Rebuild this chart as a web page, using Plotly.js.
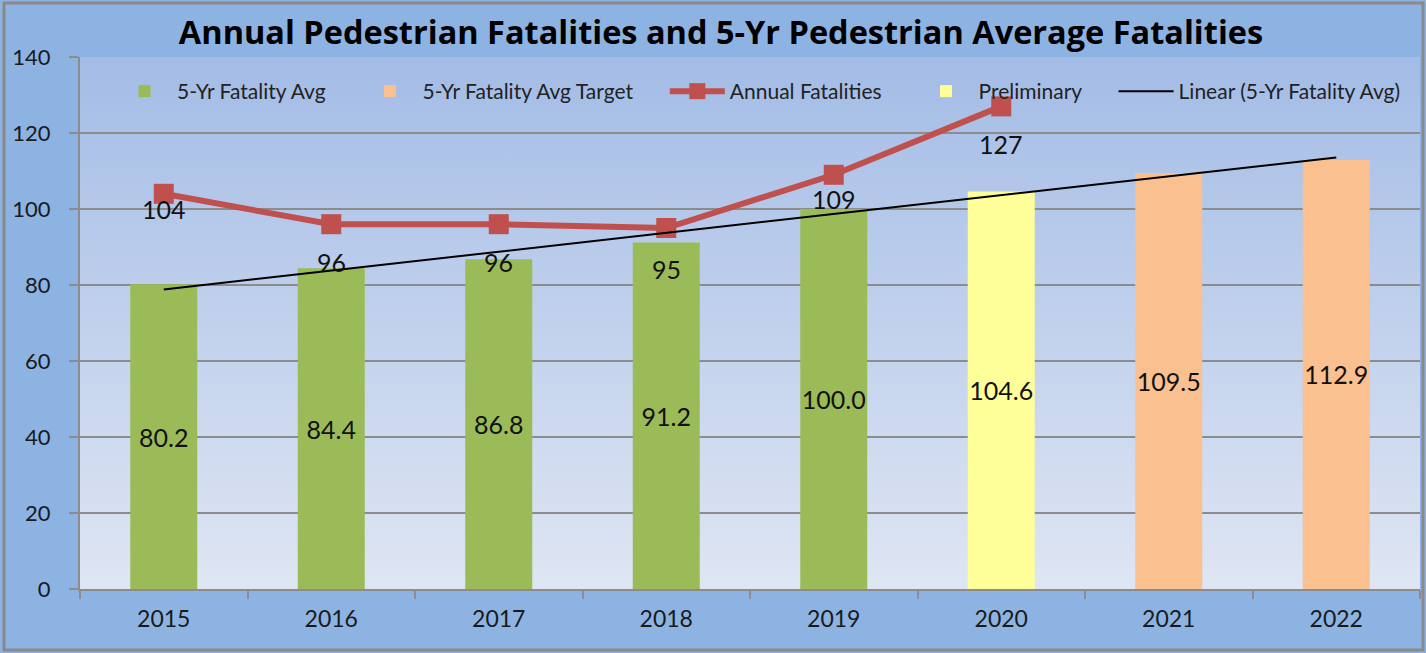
<!DOCTYPE html>
<html>
<head>
<meta charset="utf-8">
<script src="https://cdn.plot.ly/plotly-3.0.1.min.js"></script>
<style>html,body{margin:0;padding:0;background:#8db3e2;}#chart{width:1426px;height:653px;}</style>
</head>
<body>
<div id="chart"></div>
<script>
// ---- data ----
const years = ['2015','2016','2017','2018','2019','2020','2021','2022'];
const avgYears = ['2015','2016','2017','2018','2019'];
const avgValues = [80.2, 84.4, 86.8, 91.2, 100.0];
const prelimYears = ['2020'];
const prelimValues = [104.6];
const targetYears = ['2021','2022'];
const targetValues = [109.5, 112.9];
const annualYears = ['2015','2016','2017','2018','2019','2020'];
const annualValues = [104, 96, 96, 95, 109, 127];

// label offsets (style, px below marker)
const annualLabelShift = [-15, -38, -38, -41, -24, -38];

// linear trendline (least squares over all 5-yr average values, as Excel does)
const allAvg = avgValues.concat(prelimValues, targetValues);
const n = allAvg.length;
const xs = allAvg.map((_, i) => i + 1);
const mx = xs.reduce((a, b) => a + b, 0) / n;
const my = allAvg.reduce((a, b) => a + b, 0) / n;
let sxy = 0, sxx = 0;
for (let i = 0; i < n; i++) { sxy += (xs[i] - mx) * (allAvg[i] - my); sxx += (xs[i] - mx) ** 2; }
const slope = sxy / sxx, icpt = my - slope * mx;
const trendValues = xs.map(x => icpt + slope * x);

const FONT = 'Lato, "Noto Sans", sans-serif';
const labelFont = () => ({family: FONT, size: 25, color: '#111'});
const PAD = '\u00a0\u00a0\u00a0\u00a0\u00a0'; // extra spacing between legend entries

const barCommon = () => ({type: 'bar', width: 0.4, textposition: 'inside', insidetextanchor: 'middle',
  textangle: 0, textfont: labelFont(), constraintext: 'none', cliponaxis: false});

const traces = [
  Object.assign(barCommon(), {name: '5-Yr Fatality Avg' + PAD, x: avgYears, y: avgValues,
   marker: {color: '#9bbb59'}, text: avgValues.map(v => v.toFixed(1))}),
  Object.assign(barCommon(), {name: '5-Yr Fatality Avg Target' + PAD, x: targetYears, y: targetValues,
   marker: {color: '#fac090'}, text: targetValues.map(v => v.toFixed(1))}),
  {type: 'scatter', mode: 'lines+markers', name: 'Annual Fatalities' + PAD, x: annualYears, y: annualValues,
   line: {color: '#c0504d', width: 6}, marker: {symbol: 'square', size: 20, color: '#c0504d'}},
  Object.assign(barCommon(), {name: 'Preliminary' + PAD, x: prelimYears, y: prelimValues,
   marker: {color: '#ffff99'}, text: prelimValues.map(v => v.toFixed(1))}),
  {type: 'scatter', mode: 'lines', name: 'Linear (5-Yr Fatality Avg)', x: years, y: trendValues,
   line: {color: '#000', width: 2}}
];

const annotations = annualYears.map((yr, i) => ({
  x: years.indexOf(yr), y: annualValues[i], xref: 'x', yref: 'y', text: String(annualValues[i]),
  showarrow: false, yshift: annualLabelShift[i], font: labelFont()
}));

const gradSvg = '<svg xmlns="http://www.w3.org/2000/svg" width="100" height="100" preserveAspectRatio="none">' +
  '<defs><linearGradient id="g" x1="0" y1="0" x2="0" y2="1">' +
  '<stop offset="0" stop-color="#a3bce6"/><stop offset="1" stop-color="#dfe6f3"/></linearGradient></defs>' +
  '<rect width="100" height="100" fill="url(#g)"/></svg>';
const gradUrl = 'data:image/svg+xml;charset=utf-8,' + encodeURIComponent(gradSvg);

const L = 80, R = 6, T = 57, B = 64, W = 1426, H = 653;
const pw = W - L - R, ph = H - T - B;
const px = v => (v - L) / pw;
const py = v => (H - B - v) / ph;

const layout = {
  width: W, height: H,
  margin: {l: L, r: R, t: T, b: B, pad: 0},
  paper_bgcolor: '#8db3e2',
  plot_bgcolor: 'rgba(0,0,0,0)',
  font: {family: FONT, color: '#1a1a1a'},
  title: {text: '<b>Annual Pedestrian Fatalities and 5-Yr Pedestrian Average Fatalities</b>',
          font: {family: '"Open Sans", Lato, sans-serif', size: 32.5, color: '#000'}, x: px(721), xref: 'paper',
          xanchor: 'center', y: 0.95, yref: 'container', yanchor: 'middle'},
  barmode: 'overlay',
  showlegend: true,
  legend: {orientation: 'h', x: px(112), xanchor: 'left', y: py(71), yanchor: 'top',
           bgcolor: 'rgba(0,0,0,0)', font: {family: FONT, size: 21, color: '#222'},
           traceorder: 'normal', itemwidth: 55},
  xaxis: {type: 'category', categoryarray: years, categoryorder: 'array', range: [-0.5, 7.5],
          showline: true, linecolor: '#8c8c8c', linewidth: 2, ticks: 'outside', tickson: 'boundaries',
          ticklen: 8, tickwidth: 2, tickcolor: '#8c8c8c', showgrid: false,
          tickfont: {family: FONT, size: 23, color: '#1a1a1a'}, ticklabelstandoff: 8, fixedrange: true},
  yaxis: {range: [0, 140], dtick: 20, showline: true, linecolor: '#8c8c8c', linewidth: 2,
          ticks: 'outside', ticklen: 9, tickwidth: 2, tickcolor: '#8c8c8c',
          showgrid: true, gridcolor: '#8c8c8c', gridwidth: 2, zeroline: false,
          tickfont: {family: FONT, size: 22, color: '#1a1a1a'}, ticklabelstandoff: 14, fixedrange: true},
  images: [{source: gradUrl, xref: 'paper', yref: 'paper', x: 0, y: 1, sizex: 1, sizey: 1,
            xanchor: 'left', yanchor: 'top', sizing: 'stretch', layer: 'below'}],
  shapes: [{type: 'rect', xref: 'paper', yref: 'paper', x0: px(4), x1: px(1423), y0: py(650), y1: py(3),
            line: {color: '#8a8a8a', width: 3}, fillcolor: 'rgba(0,0,0,0)', layer: 'above'}],
  annotations: annotations
};

Plotly.newPlot('chart', traces, layout, {displayModeBar: false, staticPlot: true});
</script>
</body>
</html>
